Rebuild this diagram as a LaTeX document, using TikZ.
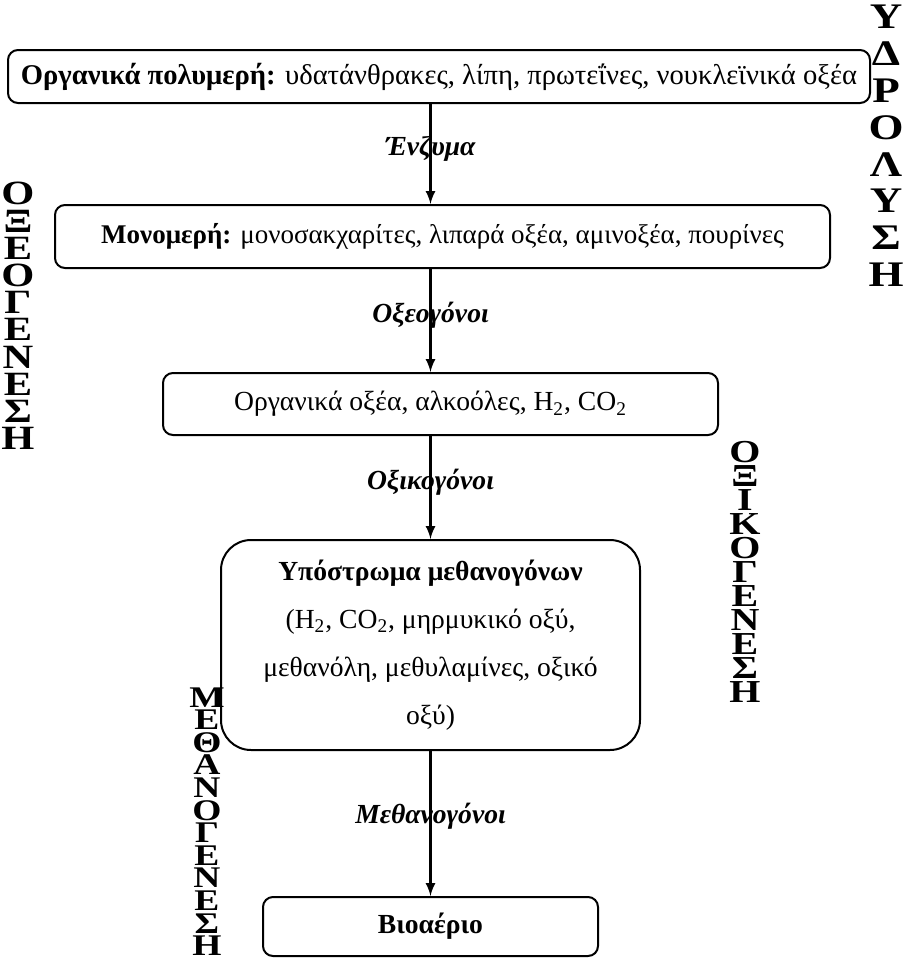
\documentclass[tikz,border=0pt]{standalone}
\usepackage{fontspec}
\setmainfont{Liberation Serif}
\newfontfamily\widefont[FakeStretch=1.25]{Liberation Serif}
\begin{document}
\begin{tikzpicture}[x=0.5pt,y=-0.5pt,
    stage/.style={draw,line width=1pt,rounded corners=5pt,inner sep=0pt,
      font=\fontsize{13.8}{16}\selectfont},
    agent/.style={font=\fontsize{13.8}{16}\selectfont\bfseries\itshape},
    vword/.style 2 args={anchor=north,inner sep=0pt,align=center,
      font=\widefont\fontsize{#1}{#2pt}\selectfont\bfseries,
      execute at begin node={\lineskiplimit=-20pt\relax}}]
  \useasboundingbox (0,0) rectangle (907,958);
  \node[stage,minimum width=431pt,minimum height=26.5pt,font=\fontsize{14.3}{16}\selectfont] (poly) at (439,76.5)
    {\textbf{Οργανικά πολυμερή:} υδατάνθρακες, λίπη, πρωτεΐνες, νουκλεϊνικά οξέα};
  \node[stage,minimum width=387.5pt,minimum height=31.5pt,font=\fontsize{13.5}{16}\selectfont] (mono) at (442.5,236.5)
    {\textbf{Μονομερή:} μονοσακχαρίτες, λιπαρά οξέα, αμινοξέα, πουρίνες};
  \node[stage,minimum width=277.5pt,minimum height=31pt] (acid) at (440.5,404)
    {Οργανικά οξέα, αλκοόλες, H\textsubscript{2}, CO\textsubscript{2}\kern10pt};
  \node[stage,rounded corners=15pt,minimum width=209.5pt,minimum height=105pt,
    align=center,font=\fontsize{13.8}{24pt}\selectfont] (sub) at (430.5,645)
    {\textbf{Υπόστρωμα μεθανογόνων}\\(H\textsubscript{2}, CO\textsubscript{2}, μηρμυκικό οξύ,\\
     μεθανόλη, μεθυλαμίνες, οξικό\\οξύ)};
  \node[stage,minimum width=167.5pt,minimum height=29.5pt] (gas) at (430.5,926.5)
    {\textbf{Βιοαέριο}};
  % arrows
  \draw[-latex,line width=1.2pt] (poly.south -| sub.north) -- node[agent,pos=0.45] {Ένζυμα} (mono.north -| sub.north);
  \draw[-latex,line width=1.2pt] (mono.south -| sub.north) -- node[agent,pos=0.45] {Οξεογόνοι} (acid.north -| sub.north);
  \draw[-latex,line width=1.2pt] (acid.south -| sub.north) -- node[agent,pos=0.45] {Οξικογόνοι} (sub.north);
  \draw[-latex,line width=1.2pt] (sub.south) -- node[agent,pos=0.45] {Μεθανογόνοι} (gas.north);
  % stage names
  \node[vword={18}{18.4}] (hydro) at (886,5) {Υ\\Δ\\Ρ\\Ο\\Λ\\Υ\\Σ\\Η};
  \node[vword={17}{13.6}] (oxeo) at (18,182) {Ο\\Ξ\\Ε\\Ο\\Γ\\Ε\\Ν\\Ε\\Σ\\Η};
  \node[vword={16}{12}] (oxiko) at (745,441) {Ο\\Ξ\\Ι\\Κ\\Ο\\Γ\\Ε\\Ν\\Ε\\Σ\\Η};
  \node[vword={15}{11.3}] (methano) at (207,687) {Μ\\Ε\\Θ\\Α\\Ν\\Ο\\Γ\\Ε\\Ν\\Ε\\Σ\\Η};
\end{tikzpicture}
\end{document}
